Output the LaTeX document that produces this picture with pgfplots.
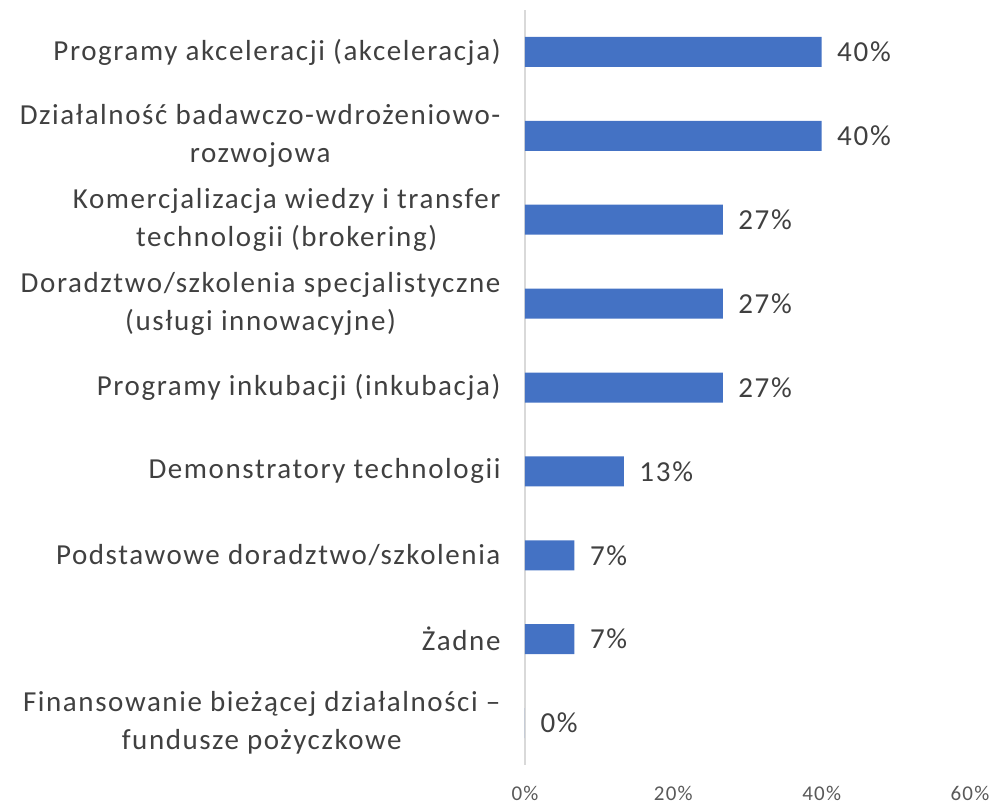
\documentclass[border=0pt]{standalone}
\usepackage{pgfplots}
\pgfplotsset{compat=1.18}
\usepackage{fontspec}
\setmainfont{Carlito}
\definecolor{barblue}{HTML}{4472C4}
\definecolor{txt}{HTML}{404040}
\definecolor{ticktxt}{HTML}{595959}
\definecolor{axisgray}{HTML}{D9D9D9}
\begin{document}
\begin{tikzpicture}[x=1pt,y=1pt]
\useasboundingbox (0,0) rectangle (994,-805);
\begin{axis}[
  at={(525pt,-765pt)}, anchor=south west,
  scale only axis, width=445pt, height=755pt,
  xbar, bar width=30pt,
  xmin=0, xmax=60,
  ymin=-0.5, ymax=8.5, y dir=reverse,
  clip=false,
  /pgf/number format/assume math mode=true,
  axis lines*=left,
  x axis line style={draw=none},
  y axis line style={draw=axisgray, line width=1.3pt},
  major tick length=0pt,
  ytick={0,1,2,3,4,5,6,7,8},
  yticklabels={
    {Programy akceleracji (akceleracja)},
    {Działalność badawczo-wdrożeniowo-\\rozwojowa},
    {Komercjalizacja wiedzy i transfer\\technologii (brokering)},
    {Doradztwo/szkolenia specjalistyczne\\(usługi innowacyjne)},
    {Programy inkubacji (inkubacja)},
    {Demonstratory technologii},
    {Podstawowe doradztwo/szkolenia},
    {Żadne},
    {Finansowanie bieżącej działalności –\\fundusze pożyczkowe}},
  yticklabel style={align=center, font=\fontsize{29}{38}\selectfont\addfontfeatures{LetterSpace=5.5}, text=txt, xshift=-21pt},
  xtick={0,20,40,60},
  xticklabel={\pgfmathprintnumber{\tick}\%},
  xticklabel style={font=\fontsize{21}{25}\selectfont\addfontfeatures{LetterSpace=6}, text=ticktxt, yshift=-18pt},
  nodes near coords={\pgfmathprintnumber[fixed,precision=0]{\pgfplotspointmeta}\%},
  every node near coord/.append style={anchor=west, font=\fontsize{29}{35}\selectfont\addfontfeatures{LetterSpace=6}, text=txt, xshift=12pt},
]
\addplot[fill=barblue, draw=none] coordinates {
  (40,0) (40,1) (26.67,2) (26.67,3) (26.67,4) (13.33,5) (6.67,6) (6.67,7) (0,8)
};
\end{axis}
\end{tikzpicture}
\end{document}
